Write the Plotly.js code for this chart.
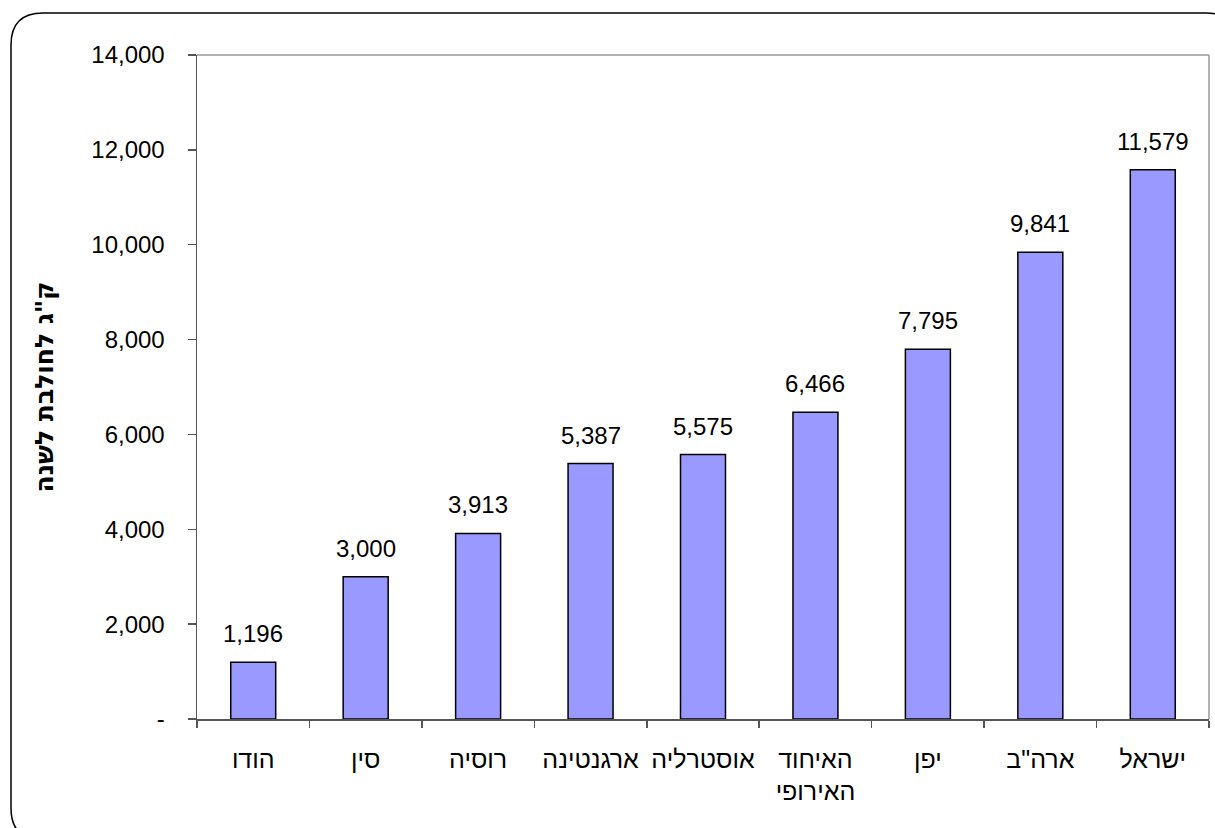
<!DOCTYPE html>
<html>
<head>
<meta charset="utf-8">
<script src="https://cdn.plot.ly/plotly-3.0.1.min.js"></script>
<style>html,body{margin:0;padding:0;background:#fff;}#chart{width:1215px;height:828px;}</style>
</head>
<body>
<div id="chart"></div>
<script>
const categories = ["הודו", "סין", "רוסיה", "ארגנטינה", "אוסטרליה", "האיחוד<br>האירופי", "יפן", "ארה\"ב", "ישראל"];
const milkYield = [1196, 3000, 3913, 5387, 5575, 6466, 7795, 9841, 11579];
const yTickVals = [0, 2000, 4000, 6000, 8000, 10000, 12000, 14000];
const yTickText = ["-", "2,000", "4,000", "6,000", "8,000", "10,000", "12,000", "14,000"];
const yTitle = "ק\"ג לחולבת לשנה";

const L = 197, R = 1209, T = 55, B = 719;
const px = x => (x - L) / (R - L);
const py = y => (B - y) / (B - T);
const FONT = "Liberation Sans, Arial, sans-serif";

function roundedFrame(x0, y0, x1, y1, r) {
  return `M ${px(x0)},${py(y0 + r)} Q ${px(x0)},${py(y0)} ${px(x0 + r)},${py(y0)} ` +
    `L ${px(x1 - r)},${py(y0)} Q ${px(x1)},${py(y0)} ${px(x1)},${py(y0 + r)} ` +
    `L ${px(x1)},${py(y1 - r)} Q ${px(x1)},${py(y1)} ${px(x1 - r)},${py(y1)} ` +
    `L ${px(x0 + r)},${py(y1)} Q ${px(x0)},${py(y1)} ${px(x0)},${py(y1 - r)} Z`;
}

const trace = {
  type: "bar",
  x: categories,
  y: milkYield,
  marker: { color: "#9999FF", line: { color: "#000000", width: 1.5 } },
  hoverinfo: "skip"
};

const valueLabels = categories.map((c, i) => ({
  x: c, y: milkYield[i], xref: "x", yref: "y",
  text: milkYield[i].toLocaleString("en-US"),
  showarrow: false, yanchor: "bottom", yshift: 13,
  font: { family: FONT, size: 24, color: "#000" }
}));

const layout = {
  width: 1215, height: 828,
  margin: { l: L, r: 1215 - R, t: T, b: 828 - B },
  paper_bgcolor: "#fff", plot_bgcolor: "#fff",
  separators: ".,",
  bargap: 0.6,
  showlegend: false,
  font: { family: FONT, size: 24, color: "#000" },
  xaxis: {
    type: "category",
    showline: true, linecolor: "#555", linewidth: 1.5,
    ticks: "outside", tickson: "boundaries", ticklen: 7, tickcolor: "#555", tickwidth: 1.5,
    showgrid: false, zeroline: false,
    tickangle: 0,
    ticklabelstandoff: 17,
    tickfont: { size: 25, family: FONT }
  },
  yaxis: {
    range: [0, 14000],
    tickvals: yTickVals, ticktext: yTickText,
    showline: true, linecolor: "#555", linewidth: 1.5,
    ticks: "outside", ticklen: 8, tickcolor: "#555", tickwidth: 1.5,
    showgrid: false, zeroline: false,
    tickfont: { size: 24, family: FONT },
    ticklabelstandoff: 18,
    title: { text: yTitle, font: { size: 25, family: "DejaVu Sans, Liberation Sans, sans-serif", weight: "bold" }, standoff: 30 }
  },
  annotations: valueLabels,
  shapes: [
    { type: "line", xref: "paper", yref: "paper", x0: 0, x1: 1, y0: 1, y1: 1, line: { color: "#999", width: 1.5 } },
    { type: "line", xref: "paper", yref: "paper", x0: 1, x1: 1, y0: 0, y1: 1, line: { color: "#999", width: 1.5 } },
    { type: "path", xref: "paper", yref: "paper", path: roundedFrame(11, 13, 1238, 840, 32), line: { color: "#000", width: 1.5 }, fillcolor: "rgba(0,0,0,0)" }
  ]
};

Plotly.newPlot("chart", [trace], layout, { staticPlot: true, displayModeBar: false });
</script>
</body>
</html>
